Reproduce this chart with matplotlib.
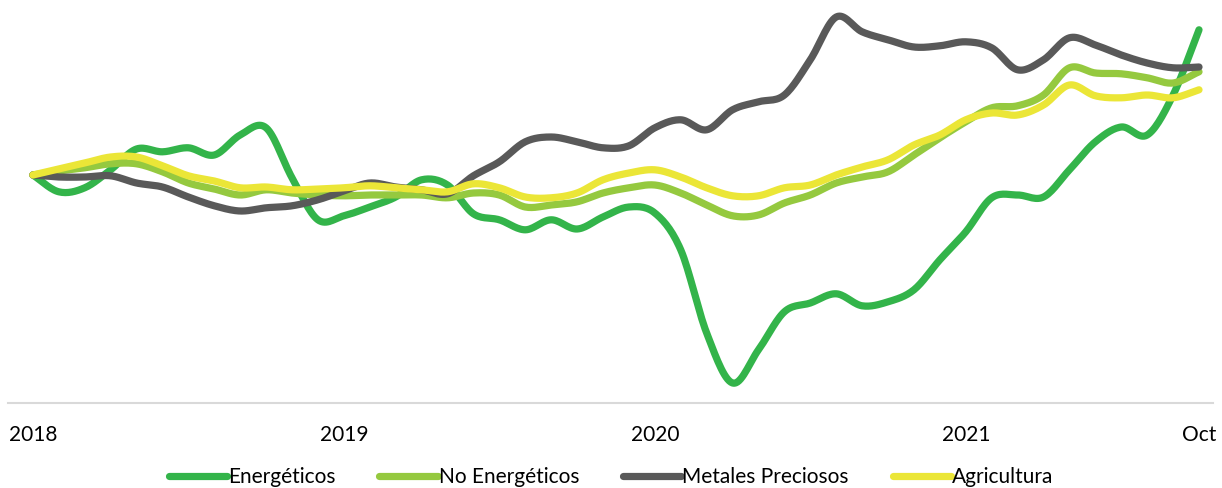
import numpy as np
import matplotlib
matplotlib.use("Agg")
import matplotlib.pyplot as plt

plt.rcParams['font.family'] = ['Lato', 'DejaVu Sans']

# monthly index, Jan 2018 = 100 ... Oct 2021
months = np.arange(46)
tick_pos = [0, 12, 24, 36, 45]
tick_labels = ['2018', '2019', '2020', '2021', 'Oct']

energeticos = [100, 95.8, 96.8, 101.3, 106.5, 105.8, 106.8, 105.0, 110.0, 111.8,
               99.3, 88.8, 89.8, 92.0, 94.5, 98.8, 97.5, 90.3, 88.8, 86.3,
               88.8, 86.5, 89.5, 92.0, 90.5, 81.3, 60.5, 48.0, 56.3, 65.8,
               68.0, 70.3, 67.3, 68.3, 71.3, 78.8, 85.8, 94.3, 95.0, 94.5,
               101.3, 108.3, 112.0, 110.0, 120.0, 136.3]
no_energeticos = [100, 101.0, 101.8, 102.8, 102.8, 100.8, 98.0, 96.5, 95.0, 96.3,
                  95.5, 95.0, 94.8, 95.0, 95.0, 95.0, 94.3, 95.5, 95.0, 92.0,
                  92.5, 93.3, 95.5, 96.8, 97.5, 95.5, 92.5, 89.8, 90.0, 93.0,
                  95.0, 98.0, 99.5, 100.8, 105.0, 109.3, 113.3, 116.8, 117.3, 120.0,
                  126.8, 125.5, 125.3, 124.3, 123.0, 125.8]
metales = [100, 99.5, 99.5, 99.8, 98.0, 97.0, 94.5, 92.3, 91.0, 91.8,
           92.3, 93.8, 96.0, 98.0, 97.0, 96.3, 95.3, 99.8, 103.3, 108.3,
           109.5, 108.3, 106.8, 107.3, 111.8, 113.8, 111.3, 116.3, 118.3, 120.0,
           128.8, 139.5, 135.8, 133.8, 132.0, 132.3, 133.3, 131.8, 126.3, 128.8,
           134.3, 132.5, 130.0, 128.0, 126.8, 127.0]
agricultura = [100, 101.5, 103.0, 104.5, 104.5, 102.3, 99.8, 98.5, 96.8, 97.0,
               96.3, 96.5, 96.8, 97.3, 96.8, 96.3, 95.8, 97.8, 96.8, 94.5,
               94.3, 95.5, 98.8, 100.5, 101.3, 99.5, 96.8, 94.8, 94.8, 96.8,
               97.5, 100.0, 102.0, 103.8, 107.5, 110.0, 113.8, 115.5, 115.0, 117.5,
               122.5, 119.8, 119.3, 120.0, 119.3, 121.3]

series = [
    ('Energéticos', energeticos, '#33B44A'),
    ('No Energéticos', no_energeticos, '#95C93F'),
    ('Metales Preciosos', metales, '#595959'),
    ('Agricultura', agricultura, '#EBE637'),
]


def smooth(x, y, steps=16):
    # Catmull-Rom curve through the points, like Excel's smoothed line
    x = np.asarray(x, float)
    y = np.asarray(y, float)
    px = np.concatenate([[2 * x[0] - x[1]], x, [2 * x[-1] - x[-2]]])
    py = np.concatenate([[2 * y[0] - y[1]], y, [2 * y[-1] - y[-2]]])
    t = np.linspace(0, 1, steps, endpoint=False)
    xs, ys = [], []
    for i in range(1, len(px) - 2):
        for p, out in ((px, xs), (py, ys)):
            p0, p1, p2, p3 = p[i - 1], p[i], p[i + 1], p[i + 2]
            out.append(0.5 * (2 * p1 + (-p0 + p2) * t
                              + (2 * p0 - 5 * p1 + 4 * p2 - p3) * t ** 2
                              + (-p0 + 3 * p1 - 3 * p2 + p3) * t ** 3))
    xs.append([x[-1]])
    ys.append([y[-1]])
    return np.concatenate(xs), np.concatenate(ys)


fig = plt.figure(figsize=(12.22, 4.88), dpi=100)
ax = fig.add_axes([8 / 1222, 85 / 488, 1205 / 1222, 398 / 488])

for name, vals, col in series:
    sx, sy = smooth(months, vals)
    ax.plot(sx, sy, color=col, lw=5.2, label=name,
            solid_capstyle='round', solid_joinstyle='round')

ax.set_xlim(-0.96, 45.54)
ax.set_ylim(43, 142.5)
ax.set_yticks([])
ax.set_xticks(tick_pos)
ax.set_xticklabels(tick_labels, fontsize=15, color='#000000')
ax.tick_params(axis='x', length=0, pad=16)
for s in ['top', 'right', 'left']:
    ax.spines[s].set_visible(False)
ax.spines['bottom'].set_color('#D9D9D9')
ax.spines['bottom'].set_linewidth(1.5)

fig.legend(loc='lower center', bbox_to_anchor=(0.5, -0.037), ncol=4,
           frameon=False, fontsize=15, handlelength=2.8, handletextpad=0.05,
           columnspacing=2.1)

fig.savefig('out.png', dpi=100)
